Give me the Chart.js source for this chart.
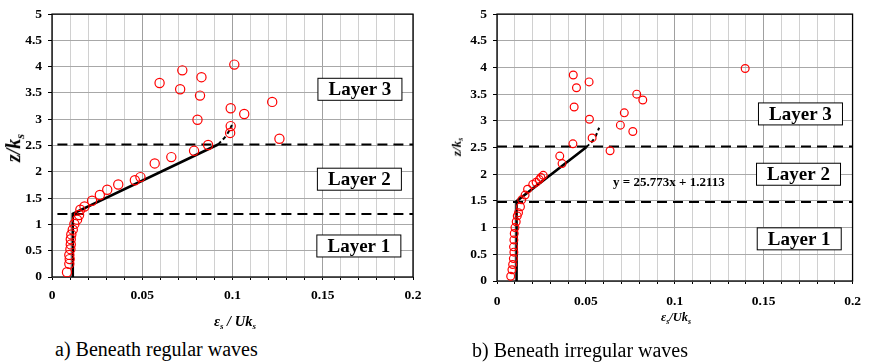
<!DOCTYPE html>
<html>
<head>
<meta charset="utf-8">
<script src="https://cdn.jsdelivr.net/npm/chart.js@4"></script>
<style>
  body { margin: 0; background: #fff; width: 870px; height: 364px; position: relative; overflow: hidden; }
  .box { position: absolute; top: 0; width: 430px; height: 335px; }
  .txt { position: absolute; font-family: "Liberation Serif", serif; color: #000; white-space: nowrap; }
  .ax { font-weight: bold; font-style: italic; transform: translate(-50%, -50%); }
  .yt { transform: translate(-50%, -50%) rotate(-90deg); }
  .ax sub { font-size: 62%; vertical-align: -0.3em; }
  .cap { font-size: 20px; transform: translateY(-50%); }
</style>
</head>
<body>
<div class="box" style="left:0"><canvas id="chartA"></canvas></div>
<div class="box" style="left:440px"><canvas id="chartB"></canvas></div>

<div class="txt ax yt" style="left:15px; top:148px; font-size:20px">z/k<sub>s</sub></div>
<div class="txt ax yt" style="left:457px; top:147px; font-size:13px">z/k<sub>s</sub></div>
<div class="txt ax" style="left:235px; top:322px; font-size:14.5px">ε<sub>s</sub> / Uk<sub>s</sub></div>
<div class="txt ax" style="left:676px; top:318px; font-size:12.5px">ε<sub>s</sub>/Uk<sub>s</sub></div>
<div class="txt cap" style="left:55px; top:349px">a) Beneath regular waves</div>
<div class="txt cap" style="left:472px; top:350px">b) Beneath irregular waves</div>

<script>
// a) regular waves - measured points
var regX = [0.0083, 0.0096, 0.0098, 0.0096, 0.0102, 0.0104, 0.0104, 0.0107, 0.0115, 0.0124,
            0.0139, 0.015, 0.0157, 0.018, 0.0222, 0.0265, 0.0306, 0.0367, 0.0459, 0.049,
            0.0569, 0.0661, 0.0787, 0.0865, 0.0987, 0.099, 0.099, 0.0806, 0.1065, 0.126,
            0.122, 0.082, 0.071, 0.0596, 0.0828, 0.0722, 0.101];
var regZ = [0.09, 0.25, 0.34, 0.42, 0.53, 0.62, 0.72, 0.81, 0.90, 1.01,
            1.09, 1.18, 1.28, 1.34, 1.45, 1.56, 1.66, 1.76, 1.84, 1.90,
            2.16, 2.28, 2.40, 2.51, 2.74, 2.87, 3.21, 2.99, 3.10, 2.63,
            3.33, 3.45, 3.57, 3.69, 3.80, 3.93, 4.04];

// b) irregular waves - measured points
var irrX = [0.0077, 0.0084, 0.0088, 0.0092, 0.0095, 0.0093, 0.0095, 0.0097, 0.0101, 0.0108,
            0.0114, 0.0121, 0.0132, 0.0139, 0.0158, 0.0172, 0.0201, 0.022, 0.0238, 0.0247,
            0.026, 0.0366, 0.0353, 0.0427, 0.0636, 0.0535, 0.052, 0.0434, 0.0694, 0.0764,
            0.0716, 0.0786, 0.082, 0.0447, 0.0429, 0.0518, 0.1396];
var irrZ = [0.09, 0.21, 0.31, 0.42, 0.54, 0.64, 0.77, 0.89, 1.0, 1.11,
            1.22, 1.28, 1.39, 1.52, 1.61, 1.72, 1.81, 1.85, 1.90, 1.94,
            1.98, 2.20, 2.34, 2.57, 2.44, 2.68, 3.03, 3.26, 2.92, 2.80,
            3.15, 3.50, 3.39, 3.62, 3.86, 3.73, 3.98];

// fitted profiles (solid part, then dashed continuation)
var regFitX = [0.0115, 0.0115, 0.092];
var regFitZ = [0, 1.2, 2.52];
var regTailX = [0.092, 0.0965, 0.0997];
var regTailZ = [2.52, 2.69, 2.89];
var irrFitX = [0.011, 0.011, 0.0502];
var irrFitZ = [0, 1.495, 2.505];
var irrTailX = [0.0502, 0.0545, 0.0575];
var irrTailZ = [2.505, 2.66, 2.87];

// layer boundaries z/ks
var regLayers = [1.2, 2.52];
var irrLayers = [1.48, 2.52];

var yTicks = [0, 0.5, 1, 1.5, 2, 2.5, 3, 3.5, 4, 4.5, 5];

function pts(xs, ys) {
  return xs.map(function (x, i) { return { x: x, y: ys[i] }; });
}

var boxText = {
  id: 'boxText',
  beforeDatasetsDraw: function (chart) {
    var a = chart.chartArea, c = chart.ctx;
    c.save();
    c.strokeStyle = '#000';
    c.lineWidth = 1.3;
    c.strokeRect(a.left, a.top, a.right - a.left, a.bottom - a.top);
    c.restore();
  },
  afterDatasetsDraw: function (chart, args, opts) {
    var c = chart.ctx, xs = chart.scales.x, ys = chart.scales.y;
    c.save();
    c.textAlign = 'center';
    c.textBaseline = 'middle';
    (opts.boxes || []).forEach(function (b) {
      var px = xs.getPixelForValue(b.x), py = ys.getPixelForValue(b.y);
      c.fillStyle = '#fff';
      c.fillRect(px - 42, py - 11, 84, 22);
      c.strokeStyle = '#000';
      c.lineWidth = 1;
      c.strokeRect(px - 42, py - 11, 84, 22);
      c.fillStyle = '#000';
      c.font = 'bold 19px "Liberation Serif"';
      c.fillText(b.text, px, py + 1);
    });
    (opts.notes || []).forEach(function (n) {
      c.fillStyle = '#000';
      c.font = 'bold 13px "Liberation Serif"';
      c.fillText(n.text, xs.getPixelForValue(n.x), ys.getPixelForValue(n.y));
    });
    c.restore();
  }
};

function makeChart(id, px, pz, fitX, fitZ, tailX, tailZ, layers, xStart, pr, cfg) {
  var sets = [
    { data: pts(px, pz), showLine: false, pointStyle: 'circle', pointRadius: cfg.r,
      pointBorderColor: '#ff0000', pointBackgroundColor: 'rgba(0,0,0,0)', pointBorderWidth: 1.2 },
    { data: pts(fitX, fitZ), showLine: true, borderColor: '#000', borderWidth: 2.6, pointRadius: 0 },
    { data: pts(tailX, tailZ), showLine: true, borderColor: '#000', borderWidth: 2, borderDash: [4, 3],
      tension: 0.4, pointRadius: 0 }
  ];
  layers.forEach(function (z) {
    sets.push({ data: [{ x: xStart, y: z }, { x: 0.2, y: z }], showLine: true, borderColor: '#000',
      borderWidth: 2, borderDash: [10, 6], pointRadius: 0 });
  });
  return new Chart(id, {
    type: 'scatter',
    data: { datasets: sets },
    options: {
      responsive: true,
      maintainAspectRatio: false,
      animation: false,
      layout: { padding: { left: 0, right: pr, top: cfg.top, bottom: 0 } },
      plugins: { legend: { display: false }, tooltip: { enabled: false }, boxText: cfg.ann },
      scales: {
        x: {
          type: 'linear', min: 0, max: 0.2,
          afterFit: function (s) { s.height = cfg.xh; },
          border: { display: false },
          grid: {
            color: function (c) { return c.index % 5 === 0 ? '#a0a0a0' : '#d0d0d0'; },
            lineWidth: 1, tickLength: 3, tickColor: '#000'
          },
          ticks: {
            stepSize: 0.01, autoSkip: false, maxRotation: 0, padding: cfg.xpad, color: '#000',
            font: { family: 'Liberation Serif', weight: 'bold', size: 13.5 },
            callback: function (v) {
              var k = v * 20;
              return Math.abs(k - Math.round(k)) < 1e-6 ? String(+v.toFixed(2)) : '';
            }
          }
        },
        y: {
          type: 'linear', min: 0, max: 5,
          afterFit: function (s) { s.width = cfg.yw; },
          afterBuildTicks: function (s) { s.ticks = yTicks.map(function (v) { return { value: v }; }); },
          border: { display: false },
          grid: { color: '#a8a8a8', lineWidth: 1, tickLength: 4, tickColor: '#000' },
          ticks: {
            padding: 6, color: '#000',
            font: { family: 'Liberation Serif', weight: 'bold', size: 13.5 },
            callback: function (v) { return String(v); }
          }
        }
      }
    },
    plugins: [boxText]
  });
}

makeChart('chartA', regX, regZ, regFitX, regFitZ, regTailX, regTailZ, regLayers, 0.003, 17, {
  r: 4.6, top: 9, xh: 58, yw: 52, xpad: 7,
  ann: {
    boxes: [{ x: 0.1706, y: 3.57, text: 'Layer 3' }, { x: 0.1703, y: 1.86, text: 'Layer 2' },
            { x: 0.17, y: 0.59, text: 'Layer 1' }]
  }
});

makeChart('chartB', irrX, irrZ, irrFitX, irrFitZ, irrTailX, irrTailZ, irrLayers, 0, 11, {
  r: 3.9, top: 14, xh: 54, yw: 57, xpad: 9,
  ann: {
    boxes: [{ x: 0.1707, y: 3.13, text: 'Layer 3' }, { x: 0.1696, y: 2.0, text: 'Layer 2' },
            { x: 0.170, y: 0.79, text: 'Layer 1' }],
    notes: [{ x: 0.0967, y: 1.835, text: 'y = 25.773x + 1.2113' }]
  }
});
</script>
</body>
</html>
